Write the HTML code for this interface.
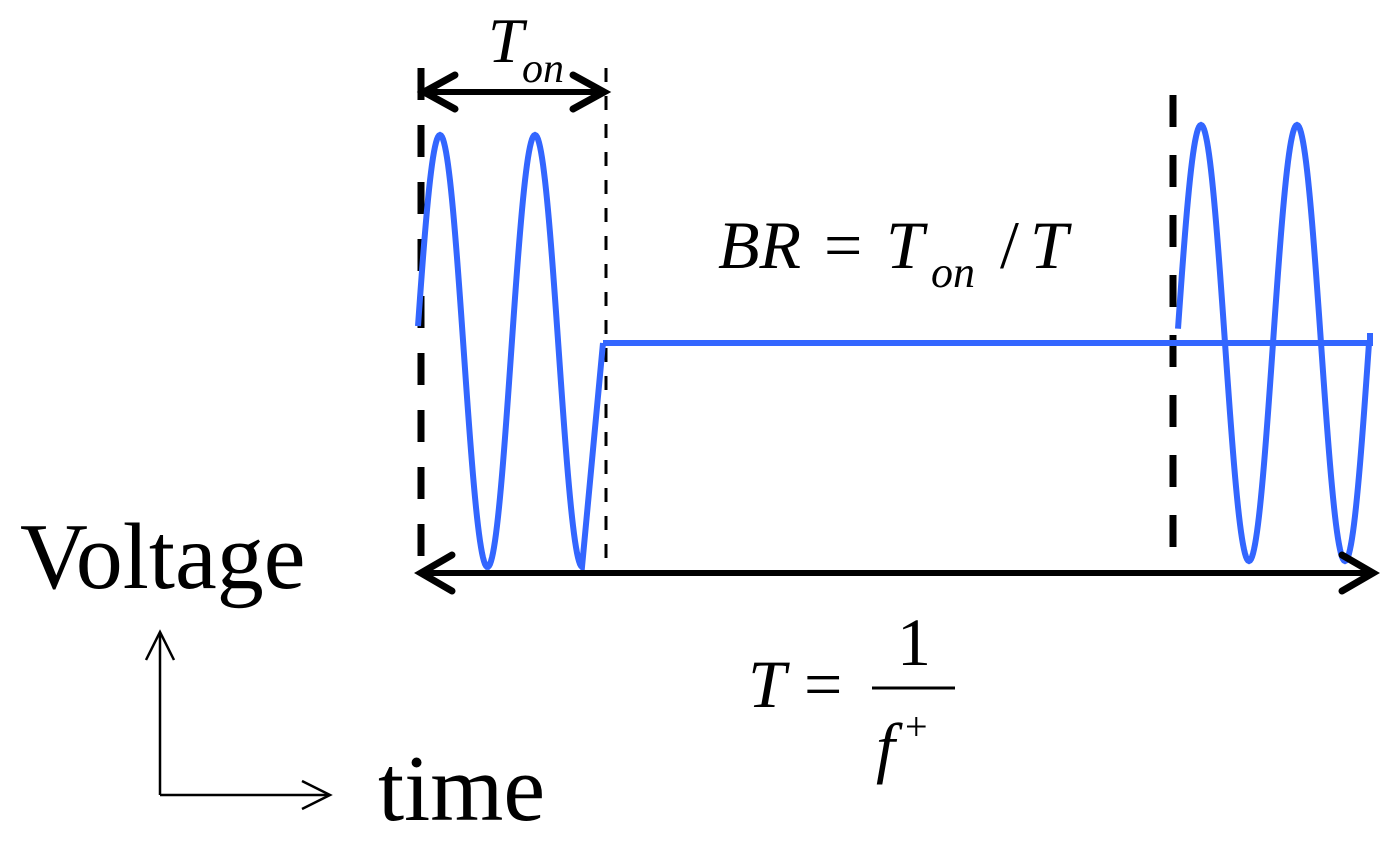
<!DOCTYPE html>
<html><head><meta charset="utf-8"><style>body{margin:0;background:#fff}svg{display:block}</style></head><body>
<svg width="1394" height="844" viewBox="0 0 1394 844" xmlns="http://www.w3.org/2000/svg">
<g fill="none" stroke-linecap="butt">
<line x1="421" y1="68" x2="421" y2="572" stroke="#000" stroke-width="7" stroke-dasharray="32 25"/>
<line x1="606" y1="68" x2="606" y2="572" stroke="#000" stroke-width="3" stroke-dasharray="14 14"/>
<line x1="1173" y1="95" x2="1173" y2="558" stroke="#000" stroke-width="7" stroke-dasharray="32 28"/>
<path id="w1" stroke="#3366ff" stroke-width="6" d=""/>
<path id="w2" stroke="#3366ff" stroke-width="6" d=""/>
<polyline points="603,343 1370,343 1370,333" stroke="#3366ff" stroke-width="6"/>
<line x1="424" y1="92" x2="603" y2="92" stroke="#000" stroke-width="6"/>
<polyline points="455,75 424,92 455,109" stroke="#000" stroke-width="7" stroke-linecap="round"/>
<polyline points="573,75 604,92 573,109" stroke="#000" stroke-width="7" stroke-linecap="round"/>
<line x1="420" y1="573" x2="1375" y2="573" stroke="#000" stroke-width="6"/>
<polyline points="452,555 421,573 452,591" stroke="#000" stroke-width="7" stroke-linecap="round"/>
<polyline points="1342,555 1373,573 1342,591" stroke="#000" stroke-width="7" stroke-linecap="round"/>
<line x1="160" y1="795" x2="160" y2="632" stroke="#000" stroke-width="2.5"/>
<polyline points="146,660 160,632 174,660" stroke="#000" stroke-width="2.5"/>
<line x1="160" y1="795" x2="330" y2="795" stroke="#000" stroke-width="2.5"/>
<polyline points="302,781 330,795 302,809" stroke="#000" stroke-width="2.5"/>
<line x1="872" y1="688" x2="955" y2="688" stroke="#000" stroke-width="3"/>
</g>
<g font-family="Liberation Serif, serif" fill="#000">
<text x="488" y="62" font-size="64" font-style="italic">T</text>
<text x="522" y="82" font-size="42" font-style="italic">on</text>
<text x="718" y="268" font-size="68" font-style="italic">BR</text>
<text x="824" y="268" font-size="68">=</text>
<text x="886" y="268" font-size="68" font-style="italic">T</text>
<text x="931" y="287" font-size="44" font-style="italic">on</text>
<text x="1000" y="268" font-size="68">/</text>
<text x="1030" y="268" font-size="68" font-style="italic">T</text>
<text x="748" y="707" font-size="68" font-style="italic">T</text>
<text x="804" y="707" font-size="68">=</text>
<text x="897" y="665" font-size="68">1</text>
<text x="876" y="770" font-size="68" font-style="italic">f</text>
<text x="905" y="740" font-size="40">+</text>
<text x="20" y="588" font-size="94">Voltage</text>
<text x="378" y="820" font-size="94">time</text>
</g>
<script>
function wave(x0,x1,xp,period,cy,amp){var d="";for(var x=x0;x<=x1;x+=1){var y=cy-amp*Math.cos(2*Math.PI*(x-xp)/period);d+=(d?"L":"M")+x+","+y.toFixed(1);}return d;}
document.getElementById("w1").setAttribute("d",wave(418,582,440,95,351,216)+"L603,343");
document.getElementById("w2").setAttribute("d",wave(1178,1369,1201,96,343,218));
</script>
</svg>
</body></html>
